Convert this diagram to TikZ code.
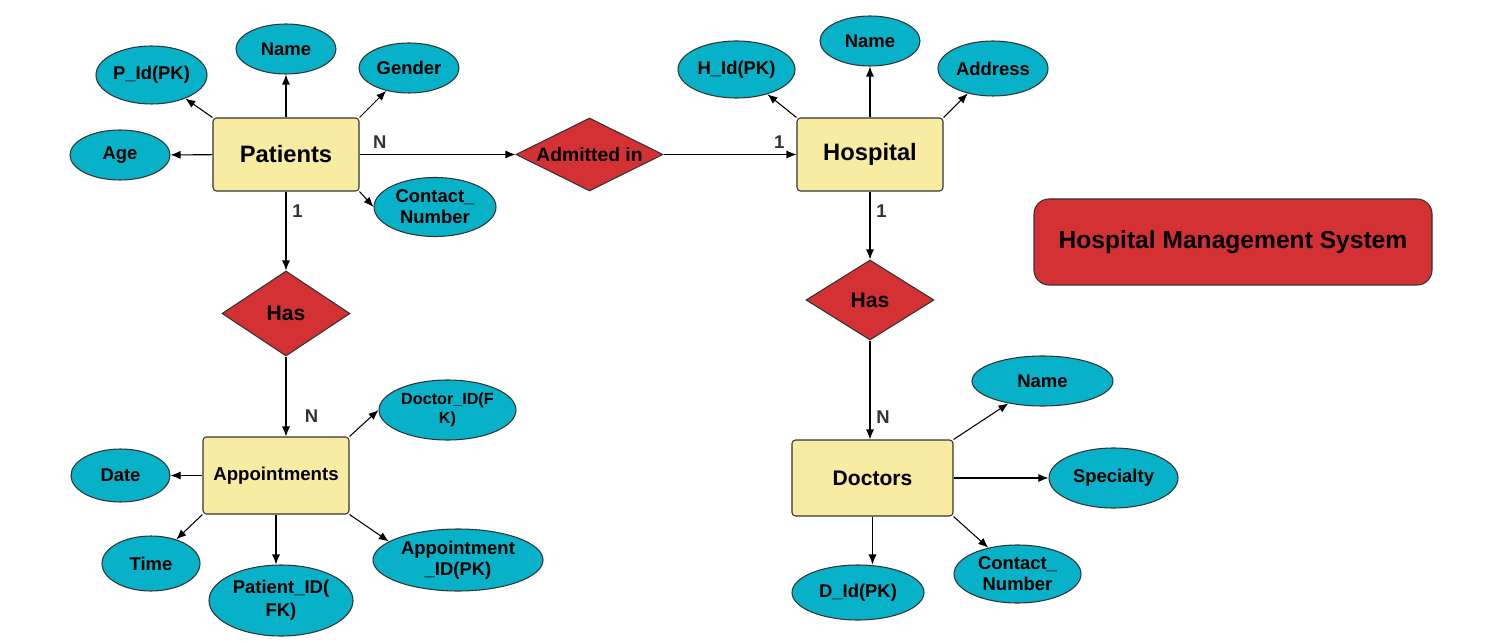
\documentclass[tikz,border=0pt]{standalone}
\usepackage{fontspec}
\setmainfont{Liberation Sans}
\usetikzlibrary{arrows.meta,shapes.geometric}
\definecolor{attrcyan}{HTML}{07B1C8}
\definecolor{entyellow}{HTML}{F8EBA2}
\definecolor{relred}{HTML}{D33134}
\definecolor{cardgray}{HTML}{333333}

\begin{document}
\begin{tikzpicture}[x=0.2mm, y=-0.2mm, line width=0.6pt,
  entity/.style={draw=black!80, fill=entyellow, rounded corners=2pt, inner sep=0pt, font=\bfseries\fontsize{13.5}{16}\selectfont},
  attr/.style={draw=black!80, fill=attrcyan, ellipse, inner sep=0pt, align=center, font=\bfseries\fontsize{10.5}{12}\selectfont},
  rel/.style={draw=black!80, fill=relred, diamond, aspect=2, inner sep=0pt, font=\bfseries\fontsize{12}{14}\selectfont},
  link/.style={-{Latex[length=2mm,width=1.6mm]}},
  card/.style={text=cardgray, font=\bfseries\fontsize{10.5}{12}\selectfont}]
\useasboundingbox (0,0) rectangle (1506,642);

% patients
\node[entity, minimum width=2.92cm, minimum height=1.46cm] (patients) at (286,154.5) {Patients};
\node[attr, minimum width=2.22cm, minimum height=1.16cm] (pid) at (151.5,75) {P\_Id(PK)};
\node[attr, minimum width=2cm, minimum height=1cm] (pname) at (286,49) {Name};
\node[attr, minimum width=2cm, minimum height=1cm] (pgender) at (409,68) {Gender};
\node[attr, minimum width=2cm, minimum height=1cm] (page) at (120,155) {Age};
\node[attr, minimum width=2.44cm, minimum height=1.18cm] (pcontact) at (435,207) {Contact\_\\Number};
\draw[link] (patients.north west) -- (pid);
\draw[link] (patients) -- (pname);
\draw[link] (patients.north east) -- (pgender);
\draw[link] (patients) -- (page);
\draw[link] (patients.south east) -- (pcontact.west);

% hospital
\node[rel, minimum width=2.94cm, minimum height=1.46cm, font=\bfseries\fontsize{11}{13}\selectfont] (admitted) at (589.5,154.5) {Admitted in};
\node[entity, minimum width=2.92cm, minimum height=1.46cm] (hospital) at (870,154.5) {Hospital};
\node[attr, minimum width=2.34cm, minimum height=1.14cm] (hid) at (736.5,69.5) {H\_Id(PK)};
\node[attr, minimum width=2cm, minimum height=1cm] (hname) at (870,41) {Name};
\node[attr, minimum width=2.2cm, minimum height=1.1cm] (haddress) at (993,68.5) {Address};
\draw[link] (patients) -- node[card, pos=0.13, above] (cardpa) {N} (admitted);
\draw[link] (admitted) -- node[card, pos=0.87, above] (cardah) {1} (hospital);
\draw[link] (hospital.north west) -- (hid);
\draw[link] (hospital) -- (hname);
\draw[link] (hospital.north east) -- (haddress);

\node[draw=black!80, fill=relred, rounded corners=0.3cm, minimum width=7.96cm, minimum height=1.72cm,
  font=\bfseries\fontsize{14}{16}\selectfont] (title) at (1233,242) {Hospital Management System};

% appointments
\node[rel, minimum width=2.56cm, minimum height=1.7cm] (hasleft) at (286,313.5) {Has};
\node[entity, minimum width=2.92cm, minimum height=1.54cm, font=\bfseries\fontsize{10.6}{12}\selectfont] (appt) at (276,475.5) {Appointments};
\node[attr, minimum width=1.98cm, minimum height=1.06cm] (adate) at (120.5,475.5) {Date};
\node[attr, minimum width=1.96cm, minimum height=1.1cm] (atime) at (151,563.5) {Time};
\node[attr, minimum width=2.88cm, minimum height=1.42cm, font=\bfseries\fontsize{10.5}{13}\selectfont] (apatient) at (281,600.5) {Patient\_ID(\\FK)};
\node[attr, minimum width=3.4cm, minimum height=1.24cm] (aid) at (458,560) {Appointment\\\_ID(PK)};
\node[attr, minimum width=2.74cm, minimum height=1.2cm, font=\bfseries\fontsize{9.2}{11}\selectfont] (adoctor) at (447.5,410) {Doctor\_ID(F\\K)};
\draw[link] (patients) -- node[card, pos=0.25, right] (cardph) {1} (hasleft);
\draw[link] (hasleft) -- node[card, pos=0.75, right, xshift=2.5mm] (cardha) {N} (hasleft |- appt.north);
\draw[link] (appt) -- (adate);
\draw[link] (appt.south west) -- (atime);
\draw[link] (appt.south) -- (appt.south |- apatient.north);
\draw[link] (appt.south east) -- (aid.165);
\draw[link] (appt.north east) -- (adoctor.west);

% doctors
\node[rel, minimum width=2.56cm, minimum height=1.6cm] (hasright) at (870,300) {Has};
\node[entity, minimum width=3.22cm, minimum height=1.52cm, font=\bfseries\fontsize{12}{14}\selectfont] (doctors) at (872.5,478) {Doctors};
\node[attr, minimum width=2.82cm, minimum height=1cm] (dname) at (1042.5,381) {Name};
\node[attr, minimum width=2.58cm, minimum height=1.2cm] (dspec) at (1113.5,478) {Specialty};
\node[attr, minimum width=2.54cm, minimum height=1.16cm] (dcontact) at (1017.5,574) {Contact\_\\Number};
\node[attr, minimum width=2.64cm, minimum height=1.1cm] (did) at (858,592.5) {D\_Id(PK)};
\draw[link] (hospital) -- node[card, pos=0.29, right] (cardhh) {1} (hasright);
\draw[link] (hasright) -- node[card, pos=0.77, right] (cardhd) {N} (hasright |- doctors.north);
\draw[link] (doctors.north east) -- (dname);
\draw[link] (doctors) -- (dspec);
\draw[link] (doctors.south east) -- (dcontact);
\draw[link] (doctors.south) -- (doctors.south |- did.north);
\end{tikzpicture}
\end{document}
